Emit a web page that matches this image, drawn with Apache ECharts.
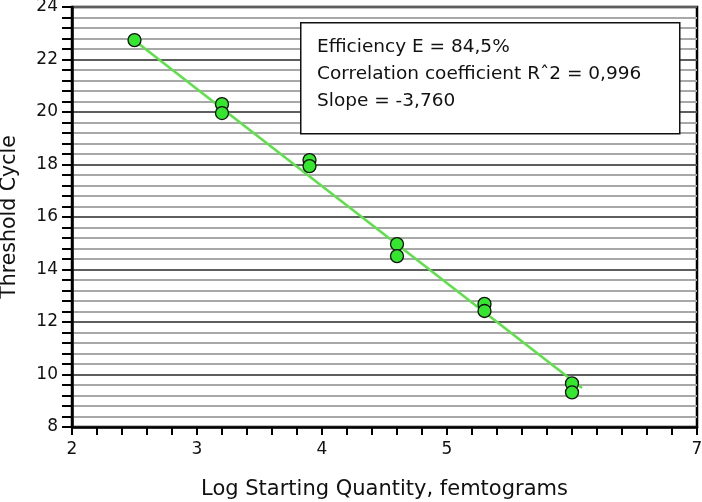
<!DOCTYPE html>
<html><head><meta charset="utf-8">
<script src="https://cdn.jsdelivr.net/npm/echarts@6/dist/echarts.min.js"></script>
<style>html,body{margin:0;padding:0;background:#fff}#c{width:702px;height:502px}</style>
</head><body><div id="c"></div>
<script>
const xValues = [2.5, 3.2, 3.2, 3.9, 3.9, 4.6, 4.6, 5.3, 5.3, 6.0, 6.0];
const yValues = [22.74, 20.30, 19.96, 18.17, 17.94, 14.97, 14.51, 12.69, 12.42, 9.66, 9.32];
const fitX = [2.5, 6.08];
const fitY = [22.72, 9.49];
const xTickLabels = ['2', '3', '4', '5', '', '7'];
const infoLines = ['Efficiency E = 84,5%', 'Correlation coefficient R\u02C62 = 0,996', 'Slope = -3,760'];
const xName = 'Log Starting Quantity, femtograms';
const yName = 'Threshold Cycle';

const FONT = 'DejaVu Sans';
const chart = echarts.init(document.getElementById('c'), null, {renderer: 'canvas'});
const pts = xValues.map((x, i) => [x, yValues[i]]);
const fit = fitX.map((x, i) => [x, fitY[i]]);
chart.setOption({
  animation: false,
  textStyle: {fontFamily: FONT},
  grid: {left: 72, top: 7, right: 5, bottom: 75, containLabel: false, outerBoundsMode: 'none',
    show: true, borderColor: '#000', borderWidth: 2.5, backgroundColor: 'transparent'},
  xAxis: {
    type: 'value', min: 2, max: 7, interval: 1,
    name: xName, nameLocation: 'middle', nameGap: 52,
    nameTextStyle: {fontSize: 21, color: '#111', fontFamily: FONT},
    axisLine: {show: true, lineStyle: {color: '#000', width: 2.5}},
    axisTick: {show: true, inside: false, length: 8, lineStyle: {color: '#000', width: 2}},
    minorTick: {show: true, splitNumber: 5, length: 8, lineStyle: {color: '#000', width: 2}},
    splitLine: {show: false},
    axisLabel: {fontSize: 17, color: '#111', margin: 14, fontFamily: FONT,
      formatter: v => xTickLabels[Math.round(v) - 2]}
  },
  yAxis: {
    type: 'value', min: 8, max: 24, interval: 2,
    name: yName, nameLocation: 'middle', nameGap: 52, nameRotate: 90,
    nameTextStyle: {fontSize: 20.5, color: '#111', fontFamily: FONT},
    axisLine: {show: true, lineStyle: {color: '#000', width: 2.5}},
    axisTick: {show: true, inside: false, length: 10, lineStyle: {color: '#000', width: 2}},
    minorTick: {show: true, splitNumber: 5, length: 10, lineStyle: {color: '#000', width: 2}},
    splitLine: {show: true, lineStyle: {color: '#5e5e5e', width: 2}},
    minorSplitLine: {show: true, lineStyle: {color: '#a8a8a8', width: 2}},
    axisLabel: {fontSize: 17, color: '#111', margin: 14, fontFamily: FONT}
  },
  series: [
    {type: 'line', data: fit, symbol: 'none', lineStyle: {color: '#5ee04a', width: 2.5}, z: 2},
    {type: 'scatter', data: pts, symbol: 'circle', symbolSize: 13,
      itemStyle: {color: '#35e62e', borderColor: '#111', borderWidth: 1.3, opacity: 1}, z: 3}
  ],
  graphic: [
    {type: 'rect', left: 300, top: 22, shape: {width: 379, height: 111},
      style: {fill: '#fff', stroke: '#111', lineWidth: 1.5}, z: 10},
    {type: 'text', left: 317, top: 34, z: 11,
      style: {text: infoLines.join('\n'), fontSize: 18.5, lineHeight: 27, fill: '#111', fontFamily: FONT}}
  ]
});
</script></body></html>
